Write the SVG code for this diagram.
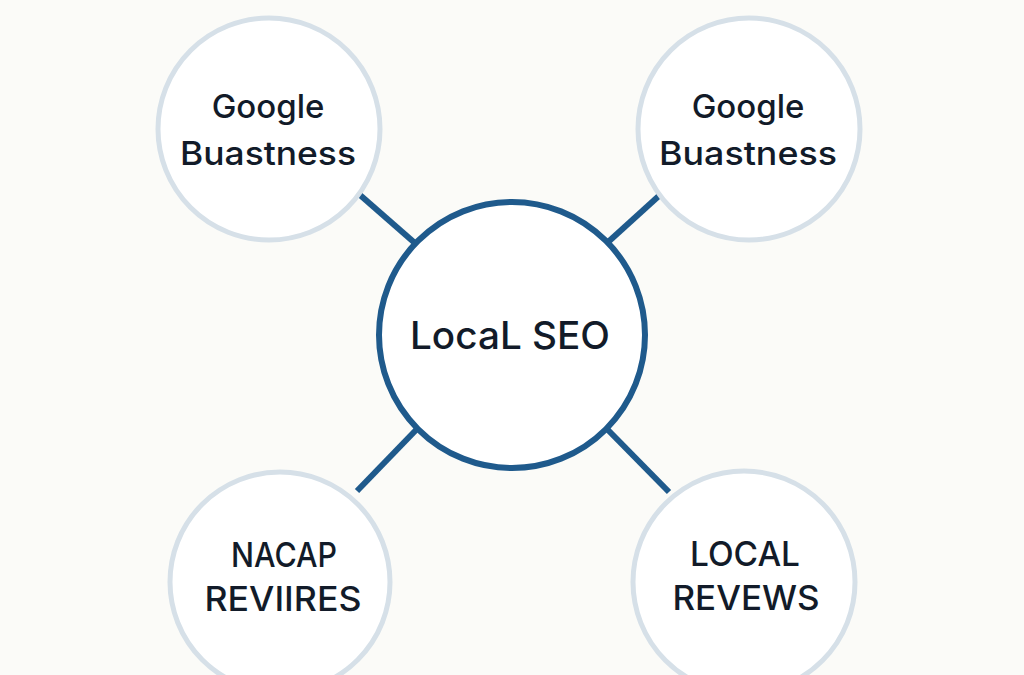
<svg xmlns="http://www.w3.org/2000/svg" width="1024" height="675" viewBox="0 0 1024 675">
<style>
.sat{fill:#ffffff;stroke:#d6e0e8;stroke-width:5}
.hub{fill:#ffffff;stroke:#1f5a8c;stroke-width:6}
.lbl{font-family:"Inter","Liberation Sans",sans-serif;font-weight:500;fill:#121b29;text-anchor:middle}
.edge{stroke:#1f5a8c;stroke-width:6;stroke-linecap:butt}
</style>
<rect width="1024" height="675" fill="#fbfbf8"/>
<g id="connectors">
<line class="edge" x1="360" y1="195" x2="416" y2="244"/>
<line class="edge" x1="661" y1="194" x2="607" y2="243"/>
<line class="edge" x1="416" y1="430" x2="357" y2="491"/>
<line class="edge" x1="608" y1="430" x2="669" y2="492"/>
</g>
<g id="node-google-tl">
<circle class="sat" cx="269" cy="129" r="111"/>
<text class="lbl" x="268" y="118" font-size="33">Google</text>
<text class="lbl" x="268" y="165" font-size="33" textLength="176" lengthAdjust="spacingAndGlyphs">Buastness</text>
</g>
<g id="node-google-tr">
<circle class="sat" cx="749" cy="129" r="111"/>
<text class="lbl" x="748" y="118" font-size="33">Google</text>
<text class="lbl" x="748" y="165" font-size="33" textLength="178" lengthAdjust="spacingAndGlyphs">Buastness</text>
</g>
<g id="node-local-seo">
<circle class="hub" cx="512" cy="335" r="133"/>
<text class="lbl" x="510" y="349" font-size="38" textLength="200" lengthAdjust="spacingAndGlyphs">LocaL SEO</text>
</g>
<g id="node-nacap">
<circle class="sat" cx="280" cy="582" r="110"/>
<text class="lbl" x="284" y="567" font-size="34" textLength="106" lengthAdjust="spacingAndGlyphs">NACAP</text>
<text class="lbl" x="283" y="611" font-size="34" textLength="157" lengthAdjust="spacingAndGlyphs">REVIIRES</text>
</g>
<g id="node-local-reviews">
<circle class="sat" cx="744" cy="582" r="111"/>
<text class="lbl" x="745" y="566" font-size="34" textLength="110" lengthAdjust="spacingAndGlyphs">LOCAL</text>
<text class="lbl" x="746" y="610" font-size="34" textLength="147" lengthAdjust="spacingAndGlyphs">REVEWS</text>
</g>
</svg>
